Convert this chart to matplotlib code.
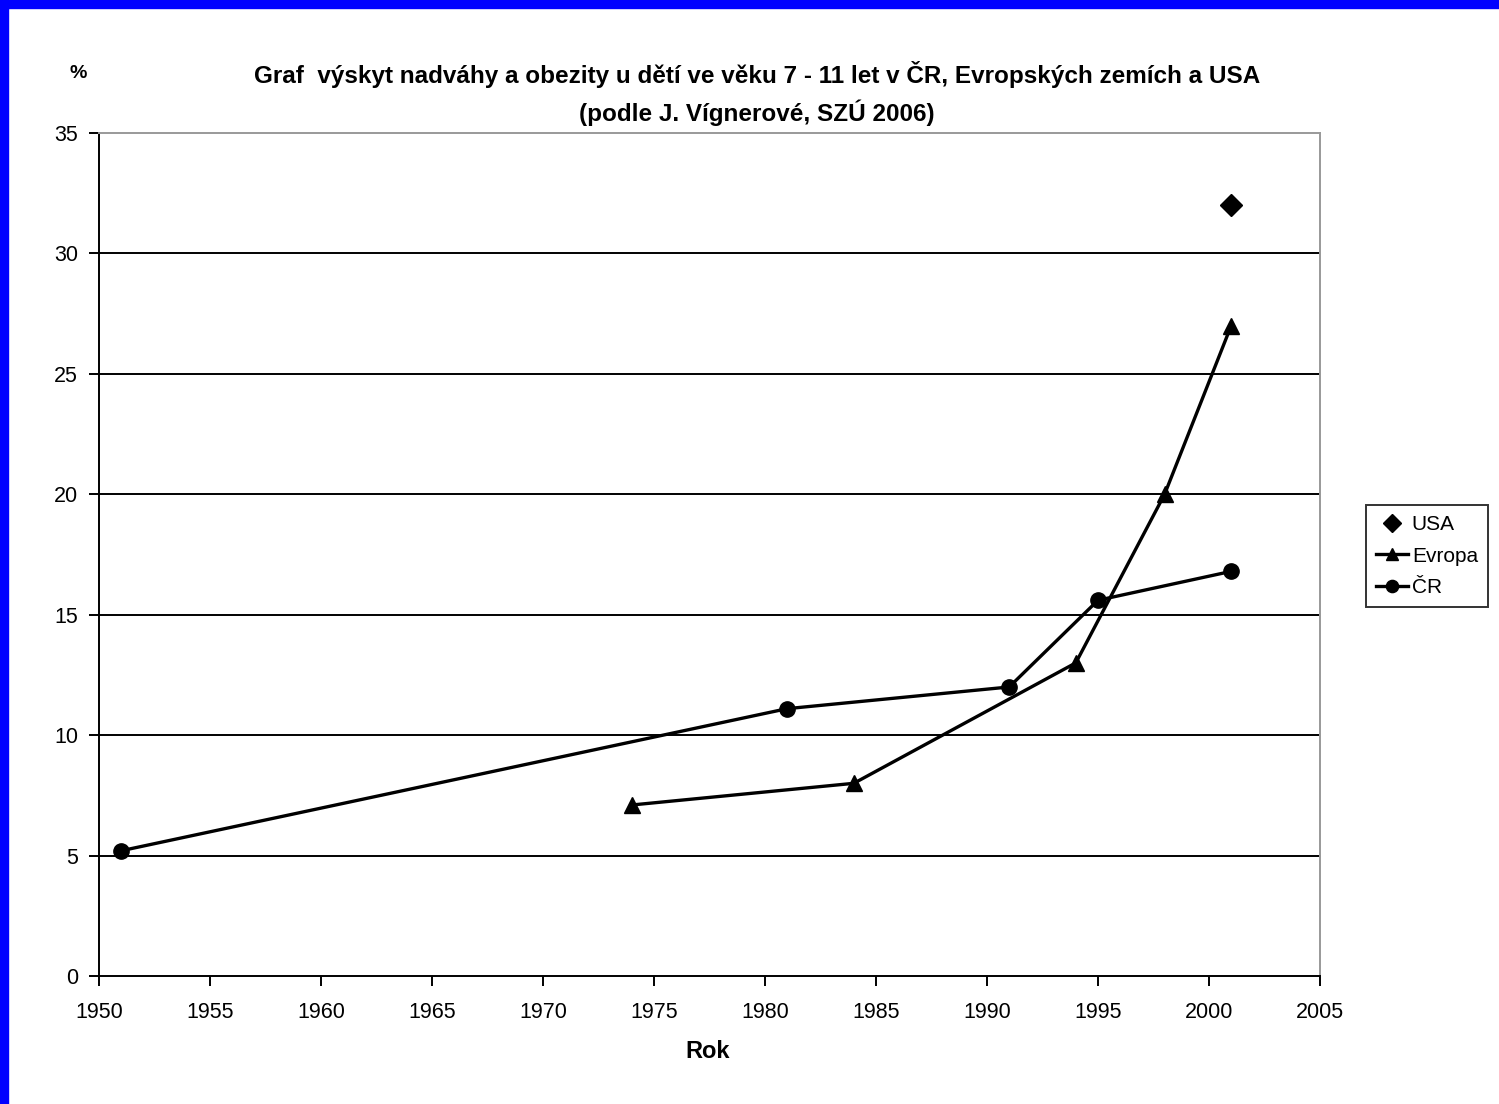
import matplotlib
matplotlib.use("Agg")
import matplotlib.pyplot as plt
from matplotlib.patches import Rectangle

plt.rcParams['font.family'] = ['Liberation Sans', 'DejaVu Sans']

# data
cr_years = [1951, 1981, 1991, 1995, 2001]
cr_vals = [5.2, 11.1, 12.0, 15.6, 16.8]
eu_years = [1974, 1984, 1994, 1998, 2001]
eu_vals = [7.1, 8.0, 13.0, 20.0, 27.0]
usa_years = [2001]
usa_vals = [32.0]

x_ticks = list(range(1950, 2006, 5))
y_ticks = list(range(0, 36, 5))

W, H = 1499, 1104
fig = plt.figure(figsize=(W / 100, H / 100), dpi=100)
fig.patch.set_facecolor('white')

# blue frame (left and top)
fig.patches.append(Rectangle((0, 0), 8 / W, 1, transform=fig.transFigure, color='#0000FF', zorder=10))
fig.patches.append(Rectangle((0, 1 - 8 / H), 1, 8 / H, transform=fig.transFigure, color='#0000FF', zorder=10))

ax = fig.add_axes([99 / W, 1 - 976 / H, (1320 - 99) / W, (976 - 133) / H])

for y in y_ticks[1:-1]:
    ax.axhline(y, color='black', lw=1.4, zorder=1)

ax.plot(usa_years, usa_vals, linestyle='none', marker='D', markersize=11, color='black', label='USA', zorder=3)
ax.plot(eu_years, eu_vals, color='black', lw=2.4, marker='^', markersize=11, label='Evropa', zorder=3)
ax.plot(cr_years, cr_vals, color='black', lw=2.4, marker='o', markersize=11, label='ČR', zorder=4)

ax.set_xlim(1950, 2005)
ax.set_ylim(0, 35)
ax.set_xticks(x_ticks)
ax.set_yticks(y_ticks)
ax.tick_params(direction='out', length=7, width=1.4, labelsize=15.5, colors='black')
ax.tick_params(axis='x', pad=12)
ax.tick_params(axis='y', pad=8)

ax.spines['left'].set_color('black')
ax.spines['bottom'].set_color('black')
ax.spines['left'].set_linewidth(1.4)
ax.spines['bottom'].set_linewidth(1.4)
ax.spines['top'].set_color('#999999')
ax.spines['right'].set_color('#999999')
ax.spines['top'].set_linewidth(1.4)
ax.spines['right'].set_linewidth(1.4)

fig.text(757 / W, 1 - 75 / H, 'Graf  výskyt nadváhy a obezity u dětí ve věku 7 - 11 let v ČR, Evropských zemích a USA',
         ha='center', va='center', fontsize=17.5, fontweight='bold')
fig.text(757 / W, 1 - 113 / H, '(podle J. Vígnerové, SZÚ 2006)',
         ha='center', va='center', fontsize=17.5, fontweight='bold')
fig.text(78 / W, 1 - 73 / H, '%', ha='center', va='center', fontsize=14, fontweight='bold')
fig.text(708 / W, 1 - 1052 / H, 'Rok', ha='center', va='center', fontsize=17, fontweight='bold')

leg = ax.legend(loc='center left', bbox_to_anchor=(1366 / W, 1 - 556 / H), bbox_transform=fig.transFigure,
                frameon=True, fancybox=False, edgecolor='black', fontsize=15, handlelength=1.5,
                handletextpad=0.2, borderpad=0.5, labelspacing=0.6, borderaxespad=0, markerscale=0.8)
leg.get_frame().set_linewidth(1.4)

fig.savefig('out.png', dpi=100)
